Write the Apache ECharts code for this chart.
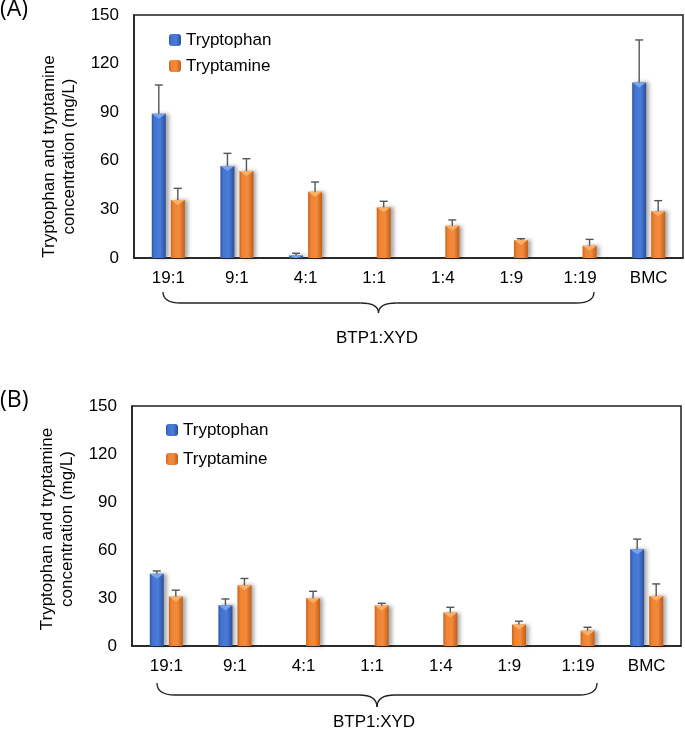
<!DOCTYPE html>
<html>
<head>
<meta charset="utf-8">
<script src="https://cdn.jsdelivr.net/npm/echarts@6/dist/echarts.min.js"></script>
<style>
html,body{margin:0;padding:0;background:#fff;}
#chart{width:685px;height:731px;}
</style>
</head>
<body>
<div id="chart"></div>
<script>
// ---- data ----
const categories = ['19:1', '9:1', '4:1', '1:1', '1:4', '1:9', '1:19', 'BMC'];
const yTicks = [0, 30, 60, 90, 120, 150];
const seriesNames = ['Tryptophan', 'Tryptamine'];

// Panel A
const trpA    = [89, 56.8, 1.6, null, null, null, null, 108.4];
const trpErrA = [17.8, 7.8, 1.3, null, null, null, null, 26.2];
const tamA    = [35.8, 53.7, 40.9, 31.3, 19.9, 11.1, 7.6, 28.8];
const tamErrA = [7.2, 7.6, 6.0, 3.7, 3.6, 0.8, 3.9, 6.6];

// Panel B
const trpB    = [45.1, 25.5, null, null, null, null, null, 60.5];
const trpErrB = [1.8, 3.9, null, null, null, null, null, 6.3];
const tamB    = [30.9, 38.0, 30.0, 25.3, 20.9, 13.4, 9.6, 31.3];
const tamErrB = [4.0, 4.2, 4.2, 1.4, 3.3, 2.1, 2.1, 7.5];

const yName = 'Tryptophan and tryptamine\nconcentration (mg/L)';
const groupLabel = 'BTP1:XYD';

// ---- style ----
const FONT = '"Liberation Sans", Arial, sans-serif';
const BAR_W = 14, HALF_STEP = 9.5;
const AX_COL = '#1e1e1e';
const blueGrad = new echarts.graphic.LinearGradient(0, 0, 1, 0, [
  {offset: 0, color: '#2d56a3'}, {offset: 0.2, color: '#4474d2'},
  {offset: 0.6, color: '#4a7bd9'}, {offset: 1, color: '#2a4f98'}]);
const orangeGrad = new echarts.graphic.LinearGradient(0, 0, 1, 0, [
  {offset: 0, color: '#c8631d'}, {offset: 0.2, color: '#ef8333'},
  {offset: 0.6, color: '#f38b3c'}, {offset: 1, color: '#c25d18'}]);
const bevel = ['#7aa3ee', '#fbb066'];

function barSeries(name, data, color, gi) {
  return {
    name: name, type: 'bar', xAxisIndex: gi, yAxisIndex: gi,
    data: data.map(v => v == null ? '-' : v),
    barWidth: BAR_W, barGap: '36%',
    itemStyle: {color: color, shadowColor: 'rgba(0,0,0,0.35)', shadowBlur: 4, shadowOffsetX: 3},
    z: 2
  };
}
function errSeries(vals, errs, offset, bevelColor, gi) {
  const d = [];
  vals.forEach((v, i) => { if (v != null) d.push([i, v, v + errs[i]]); });
  return {
    type: 'custom', xAxisIndex: gi, yAxisIndex: gi, z: 5, silent: true,
    data: d,
    renderItem: function (params, api) {
      const base = api.coord([api.value(0), 0]);
      const p = api.coord([api.value(0), api.value(1)]);
      const t = api.coord([api.value(0), api.value(2)]);
      const cx = p[0] + offset;
      const h = Math.min(5, base[1] - p[1]);
      return {type: 'group', children: [
        {type: 'polygon', shape: {points: [[cx - BAR_W / 2, p[1]], [cx + BAR_W / 2, p[1]], [cx, p[1] + h]]},
         style: {fill: bevelColor}},
        {type: 'line', shape: {x1: cx, y1: p[1], x2: cx, y2: t[1]}, style: {stroke: '#555', lineWidth: 1.4}},
        {type: 'line', shape: {x1: cx - 4, y1: t[1], x2: cx + 4, y2: t[1]}, style: {stroke: '#555', lineWidth: 1.4}}
      ]};
    }
  };
}
function xAx(gi) {
  return {
    type: 'category', gridIndex: gi, data: categories,
    axisLine: {lineStyle: {color: AX_COL, width: 1.5}},
    axisTick: {show: false},
    axisLabel: {fontSize: 17, color: '#000', fontFamily: FONT, margin: 12}
  };
}
function yAx(gi, pad) {
  return {
    type: 'value', gridIndex: gi, min: yTicks[0], max: yTicks[yTicks.length - 1], interval: yTicks[1] - yTicks[0],
    axisLine: {show: true, lineStyle: {color: AX_COL, width: 1.5}},
    axisTick: {show: false}, splitLine: {show: false},
    axisLabel: {fontSize: 17, color: '#000', fontFamily: FONT, margin: 15},
    name: yName, nameLocation: 'middle', nameRotate: 90, nameGap: 42,
    nameTextStyle: {fontSize: 17, color: '#000', fontFamily: FONT, lineHeight: 20, padding: [0, pad, 0, 0]}
  };
}
function brace(x1, x2, yTop, yLine, yTip) {
  const xm = (x1 + x2) / 2;
  const st = {stroke: '#222', lineWidth: 1.3, fill: null};
  const r = 18;
  return [
    {type: 'bezierCurve', shape: {x1: x1, y1: yTop, cpx1: x1, cpy1: yLine, x2: x1 + r, y2: yLine}, style: st},
    {type: 'line', shape: {x1: x1 + r, y1: yLine, x2: xm - r, y2: yLine}, style: st},
    {type: 'bezierCurve', shape: {x1: xm - r, y1: yLine, cpx1: xm, cpy1: yLine, x2: xm, y2: yTip}, style: st},
    {type: 'bezierCurve', shape: {x1: xm, y1: yTip, cpx1: xm, cpy1: yLine, x2: xm + r, y2: yLine}, style: st},
    {type: 'line', shape: {x1: xm + r, y1: yLine, x2: x2 - r, y2: yLine}, style: st},
    {type: 'bezierCurve', shape: {x1: x2 - r, y1: yLine, cpx1: x2, cpy1: yLine, x2: x2, y2: yTop}, style: st}
  ];
}

const chart = echarts.init(document.getElementById('chart'), null, {renderer: 'canvas'});
chart.setOption({
  backgroundColor: '#fff',
  animation: false,
  grid: [
    {left: 134, top: 15, right: 2, bottom: 473, show: true, borderColor: AX_COL, borderWidth: 1.5},
    {left: 132, top: 406, right: 4, bottom: 85, show: true, borderColor: AX_COL, borderWidth: 1.5}
  ],
  legend: [
    {data: seriesNames, orient: 'vertical', left: 164, top: 25, itemWidth: 12, itemHeight: 12, itemGap: 6,
     textStyle: {fontSize: 17, color: '#000', fontFamily: FONT, lineHeight: 20}},
    {data: seriesNames, orient: 'vertical', left: 161, top: 415, itemWidth: 12, itemHeight: 12, itemGap: 9,
     textStyle: {fontSize: 17, color: '#000', fontFamily: FONT, lineHeight: 20}}
  ],
  xAxis: [xAx(0), xAx(1)],
  yAxis: [yAx(0, 40), yAx(1, 6)],
  series: [
    barSeries(seriesNames[0], trpA, blueGrad, 0),
    barSeries(seriesNames[1], tamA, orangeGrad, 0),
    barSeries(seriesNames[0], trpB, blueGrad, 1),
    barSeries(seriesNames[1], tamB, orangeGrad, 1),
    errSeries(trpA, trpErrA, -HALF_STEP, bevel[0], 0),
    errSeries(tamA, tamErrA, HALF_STEP, bevel[1], 0),
    errSeries(trpB, trpErrB, -HALF_STEP, bevel[0], 1),
    errSeries(tamB, tamErrB, HALF_STEP, bevel[1], 1)
  ],
  graphic: [
    {type: 'text', x: 0, y: -2, style: {text: '(A)', font: '23px "Open Sans", sans-serif', fill: '#000'}},
    {type: 'text', x: 0, y: 389, style: {text: '(B)', font: '23px "Open Sans", sans-serif', fill: '#000'}},
    ...brace(163, 594, 292, 303, 313),
    ...brace(157, 597, 683, 695, 707),
    {type: 'text', x: 377, y: 338, style: {text: groupLabel, font: '17px ' + FONT, fill: '#000', align: 'center', verticalAlign: 'middle'}},
    {type: 'text', x: 374, y: 722, style: {text: groupLabel, font: '17px ' + FONT, fill: '#000', align: 'center', verticalAlign: 'middle'}}
  ]
});
</script>
</body>
</html>
